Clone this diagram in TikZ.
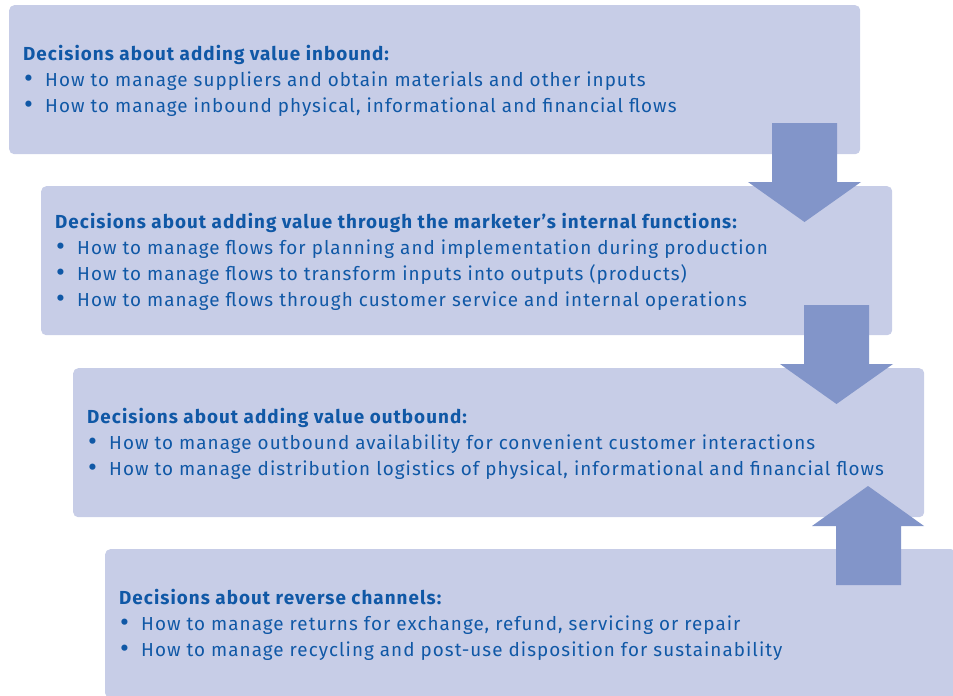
\documentclass[tikz,border=0pt]{standalone}
\usepackage{fontspec}
\setmainfont{Fira Sans}[LetterSpace=5.5]
\usetikzlibrary{positioning}
\definecolor{flowbox}{RGB}{199,205,231}
\definecolor{flowarrow}{RGB}{130,149,201}
\definecolor{flowtext}{RGB}{16,88,166}

\tikzset{
  decbox/.style={fill=flowbox, rounded corners=5pt, minimum width=851pt, minimum height=149pt, anchor=north west, inner sep=0pt},
  dectext/.style={anchor=west, align=left, text=flowtext, inner sep=0pt, font=\fontsize{18.85}{25.8}\selectfont},
  bigarrow/.style={fill=flowarrow}
}
\newcommand{\decitem}{\makebox[22pt][l]{\hspace{1pt}\raisebox{-1.2pt}{\scalebox{1.45}{\textbullet}}}}

\begin{document}
\begin{tikzpicture}[x=1pt,y=-1pt]
\useasboundingbox (0,0) rectangle (953,696);
\clip (0,0) rectangle (953,696);
% Boxes
\node[decbox] (inbound) at (9,5) {};
\node[decbox] (internal) at (41,186) {};
\node[decbox] (outbound) at (73,368) {};
\node[decbox] (reverse) at (105,549) {};

% Texts
\node[dectext] (inboundtext) at ([xshift=14pt,yshift=-1pt]inbound.west) {\textbf{Decisions about adding value inbound:}\\
\decitem How to manage suppliers and obtain materials and other inputs\\
\decitem How to manage inbound physical, informational and financial flows};
\node[dectext] (internaltext) at ([xshift=14pt,yshift=-1pt]internal.west) {\textbf{Decisions about adding value through the marketer’s internal functions:}\\
\decitem How to manage flows for planning and implementation during production\\
\decitem How to manage flows to transform inputs into outputs (products)\\
\decitem How to manage flows through customer service and internal operations};
\node[dectext] (outboundtext) at ([xshift=14pt,yshift=-1pt]outbound.west) {\textbf{Decisions about adding value outbound:}\\
\decitem How to manage outbound availability for convenient customer interactions\\
\decitem How to manage distribution logistics of physical, informational and financial flows};
\node[dectext] (reversetext) at ([xshift=14pt,yshift=-1pt]reverse.west) {\textbf{Decisions about reverse channels:}\\
\decitem How to manage returns for exchange, refund, servicing or repair\\
\decitem How to manage recycling and post-use disposition for sustainability};

% Arrows
\fill[bigarrow] (772,123) -- (837,123) -- (837,182) -- (861,182) -- (804.5,222) -- (748,182) -- (772,182) -- cycle;
\fill[bigarrow] (804,305) -- (869,305) -- (869,364) -- (893,364) -- (836.5,404) -- (780,364) -- (804,364) -- cycle;
\fill[bigarrow] (836,585) -- (901,585) -- (901,526) -- (924,526) -- (868,486) -- (812,526) -- (836,526) -- cycle;
\end{tikzpicture}
\end{document}
